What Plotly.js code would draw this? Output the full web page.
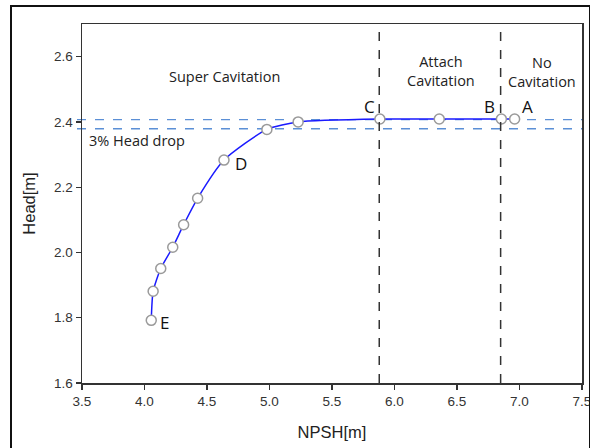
<!DOCTYPE html>
<html>
<head>
<meta charset="utf-8">
<script src="https://cdn.plot.ly/plotly-3.0.1.min.js"></script>
<style>html,body{margin:0;padding:0;background:#fff;}#chart{width:590px;height:448px;}</style>
</head>
<body>
<div id="chart"></div>
<script>
// Data
var npsh = [4.054, 4.069, 4.130, 4.226, 4.313, 4.425, 4.636, 4.979, 5.229, 5.883, 6.358, 6.855, 6.961];
var head = [1.792, 1.881, 1.951, 2.016, 2.085, 2.166, 2.283, 2.377, 2.400, 2.409, 2.409, 2.409, 2.409];
var pointLabels = ["E", "D", "C", "B", "A"];
var pointLabelX = [4.157, 4.77, 5.80, 6.76, 7.06];
var pointLabelY = [1.786, 2.273, 2.447, 2.447, 2.447];
var regionNames = ["Super Cavitation", "Attach<br>Cavitation", "No<br>Cavitation"];
var regionX = [4.64, 6.37, 7.18];
var regionY = [2.54, 2.555, 2.553];
var headLines = [2.407, 2.379];
var boundaryNPSH = [5.878, 6.849];
var dropLabel = "3% Head drop";
var xTicks = [3.5, 4.0, 4.5, 5.0, 5.5, 6.0, 6.5, 7.0, 7.5];
var yTicks = [1.6, 1.8, 2.0, 2.2, 2.4, 2.6];

var trace = {
  x: npsh, y: head, type: 'scatter', mode: 'lines+markers',
  line: {color: '#1a1aff', width: 1.5, shape: 'spline', smoothing: 0.6},
  marker: {symbol: 'circle', size: 10, color: '#ffffff', line: {color: '#9a9a9a', width: 1.5}},
  hoverinfo: 'none', showlegend: false, cliponaxis: false
};

var shapes = [];
headLines.forEach(function (v) {
  shapes.push({type: 'line', xref: 'paper', yref: 'y', x0: -0.01, x1: 1, y0: v, y1: v,
    line: {color: '#5b8fd6', width: 1.3, dash: 'dash'}, layer: 'below'});
});
boundaryNPSH.forEach(function (v) {
  shapes.push({type: 'line', xref: 'x', yref: 'paper', x0: v, x1: v, y0: 0, y1: 1,
    line: {color: '#333333', width: 1.5, dash: 'dash'}, layer: 'above'});
});
// outer frame
shapes.push({type: 'rect', xref: 'paper', yref: 'paper', x0: -0.142, x1: 1.016, y0: -0.3, y1: 1.05,
  line: {color: '#111111', width: 2}, fillcolor: 'rgba(0,0,0,0)'});

var annotations = [];
for (var i = 0; i < pointLabels.length; i++) {
  annotations.push({x: pointLabelX[i], y: pointLabelY[i], xref: 'x', yref: 'y', text: pointLabels[i],
    showarrow: false, font: {family: 'Open Sans, Noto Sans, sans-serif', size: 17, color: '#111'}});
}
for (var j = 0; j < regionNames.length; j++) {
  annotations.push({x: regionX[j], y: regionY[j], xref: 'x', yref: 'y', text: regionNames[j],
    showarrow: false, font: {family: 'Open Sans, Noto Sans, sans-serif', size: 14.5, color: '#222'}});
}
annotations.push({x: 3.54, y: 2.343, xref: 'x', yref: 'y', text: dropLabel, xanchor: 'left',
  showarrow: false, font: {family: 'Open Sans, Noto Sans, sans-serif', size: 14.5, color: '#222'}});

var axisFont = {family: 'Liberation Sans, Arial, sans-serif', size: 13.5, color: '#333'};
var layout = {
  width: 590, height: 448,
  margin: {l: 82, r: 8, t: 24, b: 65},
  paper_bgcolor: '#ffffff', plot_bgcolor: '#ffffff',
  xaxis: {
    range: [3.5, 7.5], tickvals: xTicks, ticktext: xTicks.map(function (v) { return v.toFixed(1); }),
    ticks: 'outside', ticklen: 5, tickcolor: '#333', tickwidth: 1.2, ticklabeloverflow: 'allow',
    showline: true, linecolor: '#333', linewidth: 1.5, mirror: true,
    showgrid: false, zeroline: false, tickfont: axisFont,
    title: {text: 'NPSH[m]', font: {family: 'Liberation Sans, Arial, sans-serif', size: 16.5, color: '#222'}, standoff: 18}
  },
  yaxis: {
    range: [1.6, 2.7], tickvals: yTicks, ticktext: yTicks.map(function (v) { return v.toFixed(1); }),
    ticks: 'outside', ticklen: 5, tickcolor: '#333', tickwidth: 1.2,
    showline: true, linecolor: '#333', linewidth: 1.5, mirror: true,
    showgrid: false, zeroline: false, tickfont: axisFont,
    title: {text: 'Head[m]', font: {family: 'Liberation Sans, Arial, sans-serif', size: 16.5, color: '#222'}, standoff: 14}
  },
  shapes: shapes,
  annotations: annotations
};

Plotly.newPlot('chart', [trace], layout, {staticPlot: true, displayModeBar: false});
</script>
</body>
</html>
